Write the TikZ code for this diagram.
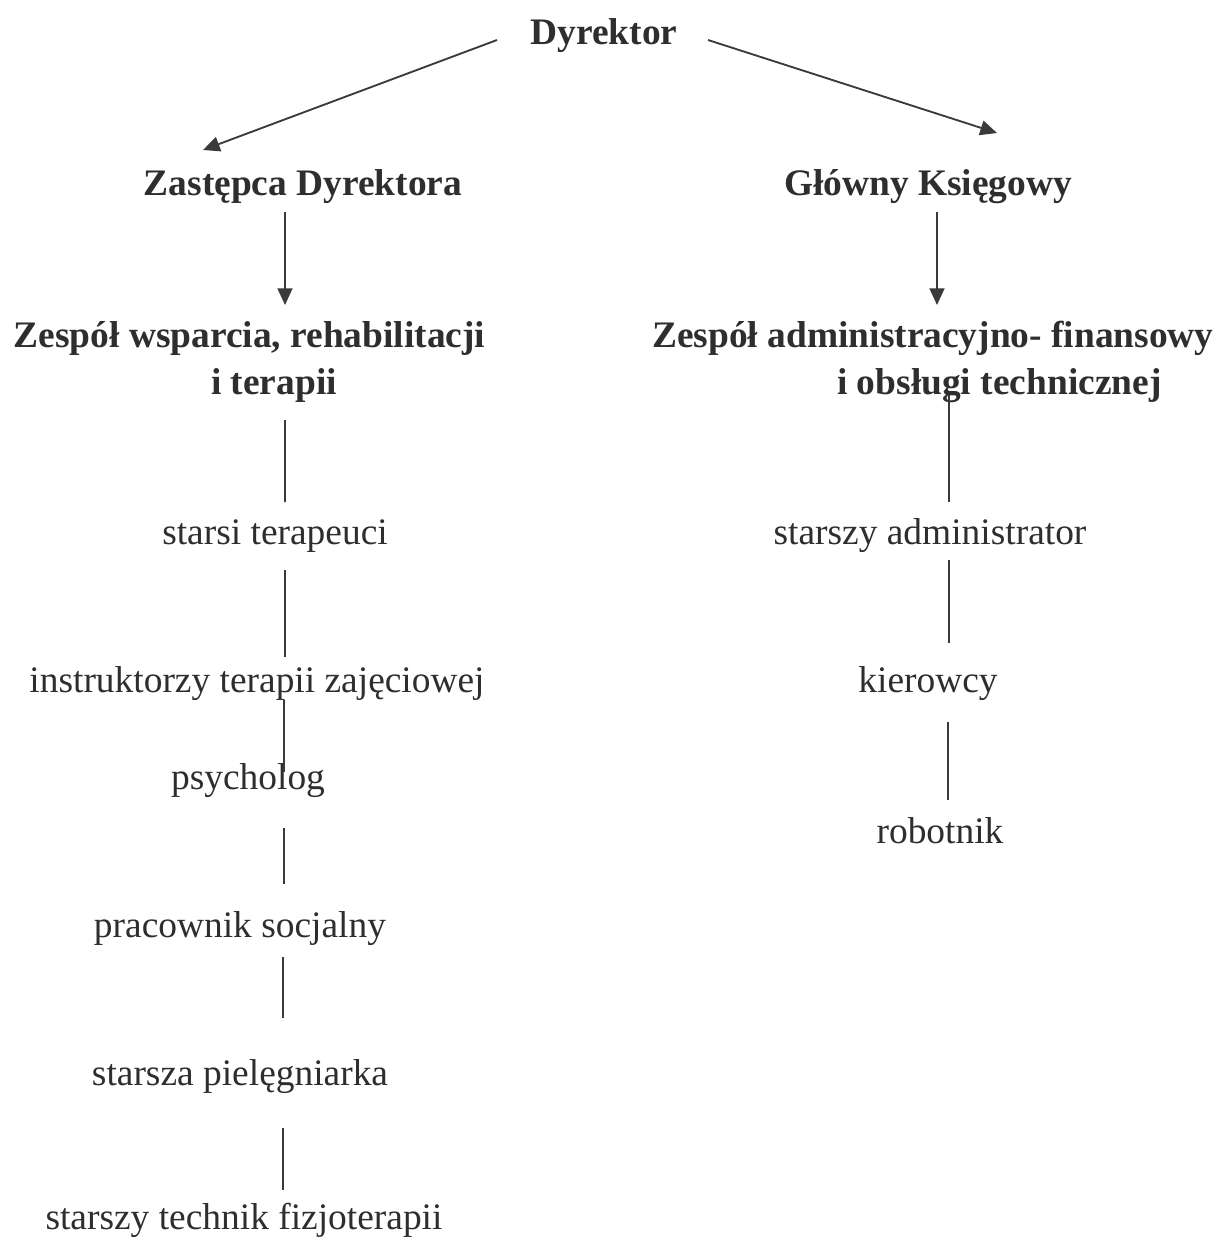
\documentclass[tikz,border=0pt]{standalone}
\usepackage{fontspec}
\setmainfont{Liberation Serif}
\usetikzlibrary{arrows.meta,calc}
\definecolor{txtgray}{HTML}{2E2E2E}
\definecolor{linegray}{HTML}{3A3A3A}

\begin{document}
\begin{tikzpicture}[x=0.02cm,y=-0.02cm,
    every node/.style={inner sep=0pt,text=txtgray,font=\fontsize{21.3}{26.7}\selectfont},
    head/.style={font=\fontsize{21.3}{26.7}\selectfont\bfseries},
    link/.style={draw=linegray,line width=1.05pt},
    arr/.style={link,-{Triangle[length=9.5pt,width=8.5pt]}}]
    % Frame
    \useasboundingbox[fill=white] (0,0) rectangle (1219,1238);
    % Heads
    \node[head] (dyr)  at (604,36)  {Dyrektor};
    \node[head] (zast) at (303,187) {Zastępca Dyrektora};
    \node[head] (glow) at (928,187) {Główny Księgowy};
    \node[head,align=left] (zwr) at (249.5,362) {Zespół wsparcia, rehabilitacji\\\hspace*{3.95cm}i terapii};
    \node[head,align=left] (zaf) at (933,362)   {Zespół administracyjno- finansowy\\\hspace*{3.7cm}i obsługi technicznej};
    % Left column
    \node (terap) at (275,536)  {starsi terapeuci};
    \node (instr) at (257,684)  {instruktorzy terapii zajęciowej};
    \node (psych) at (248,781)  {psycholog};
    \node (socj)  at (240,929)  {pracownik socjalny};
    \node (piel)  at (240,1077) {starsza pielęgniarka};
    \node (fizjo) at (244,1220) {starszy technik fizjoterapii};
    % Right column
    \node (admin) at (930,536) {starszy administrator};
    \node (kier)  at (928,684) {kierowcy};
    \node (robot) at (940,831) {robotnik};
    % Arrows
    \draw[arr] ($(dyr)+(-107,4)$)  -- ($(zast)+(-100,-37)$);
    \draw[arr] ($(dyr)+(104,4)$)   -- ($(glow)+(69,-54)$);
    \draw[arr] ($(zast)+(-18,25)$) -- ($(zwr)+(35.5,-57)$);
    \draw[arr] ($(glow)+(9,25)$)   -- ($(zaf)+(4,-57)$);
    % Lines
    \draw[link] ($(zwr)+(35.5,58)$) -- ($(terap)+(10,-34)$);
    \draw[link] ($(terap)+(10,34)$) -- ($(instr)+(28,-27)$);
    \draw[link] ($(instr)+(27,16)$) -- ($(psych)+(36,-9)$);
    \draw[link] ($(psych)+(36,47)$) -- ($(socj)+(44,-45)$);
    \draw[link] ($(socj)+(43,28)$)  -- ($(piel)+(43,-59)$);
    \draw[link] ($(piel)+(43,51)$)  -- ($(fizjo)+(39,-30)$);
    \draw[link] ($(zaf)+(16,33)$)   -- ($(admin)+(19,-34)$);
    \draw[link] ($(admin)+(19,24)$) -- ($(kier)+(21,-41)$);
    \draw[link] ($(kier)+(20,38)$)  -- ($(robot)+(8,-31)$);
\end{tikzpicture}
\end{document}
